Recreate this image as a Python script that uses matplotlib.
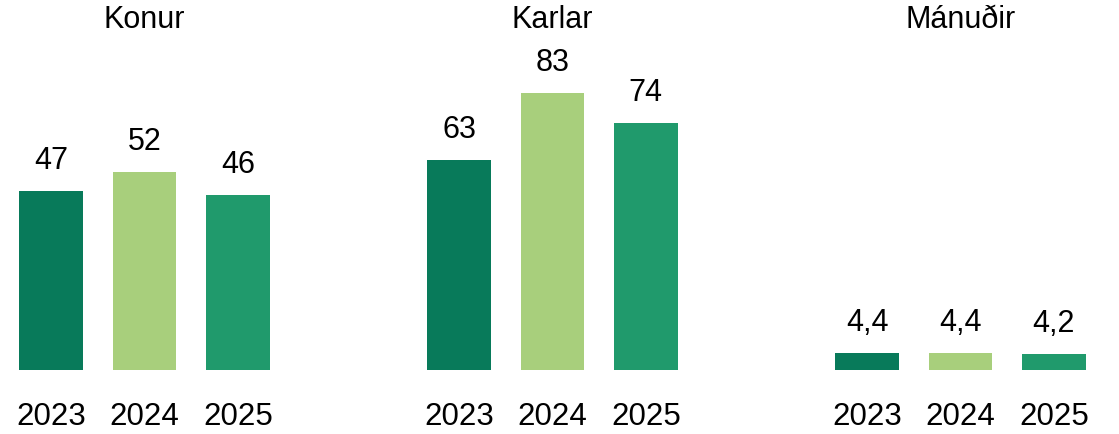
import matplotlib.pyplot as plt

plt.rcParams['font.family'] = ['Liberation Sans', 'DejaVu Sans']

# data
panels = ["Konur", "Karlar", "Mánuðir"]
years = ["2023", "2024", "2025"]
konur = [47, 52, 46]
karlar = [63, 83, 74]
manudir = [4.4, 4.4, 4.2]
labels = [["47", "52", "46"], ["63", "83", "74"], ["4,4", "4,4", "4,2"]]
colors = ["#087a5a", "#a8cf7c", "#209a6c"]

values = [konur, karlar, manudir]
ytops = [86.6, 98.8, 85.0]  # each panel has its own scale
lefts = [4.5, 412.5, 820.5]

W, H = 1119, 434
fig = plt.figure(figsize=(W / 100, H / 100), dpi=100)

for i in range(3):
    ax = fig.add_axes([lefts[i] / W, (H - 370) / H, 280 / W, 330 / H])
    x = list(range(3))
    ax.bar(x, values[i], width=0.68, color=colors)
    for xi, v, lab in zip(x, values[i], labels[i]):
        ax.annotate(lab, (xi, v), xytext=(0, 15), textcoords='offset pixels',
                    ha='center', va='bottom', fontsize=22)
    ax.set_xlim(-0.5, 2.5)
    ax.set_ylim(0, ytops[i])
    ax.set_xticks(x)
    ax.set_xticklabels(years, fontsize=22.5)
    ax.tick_params(axis='x', length=0, pad=23)
    ax.set_yticks([])
    for s in ax.spines.values():
        s.set_visible(False)
    fig.text((lefts[i] + 140) / W, 1 - 20 / H, panels[i], ha='center',
             va='center', fontsize=22)

fig.savefig("out.png", dpi=100)
